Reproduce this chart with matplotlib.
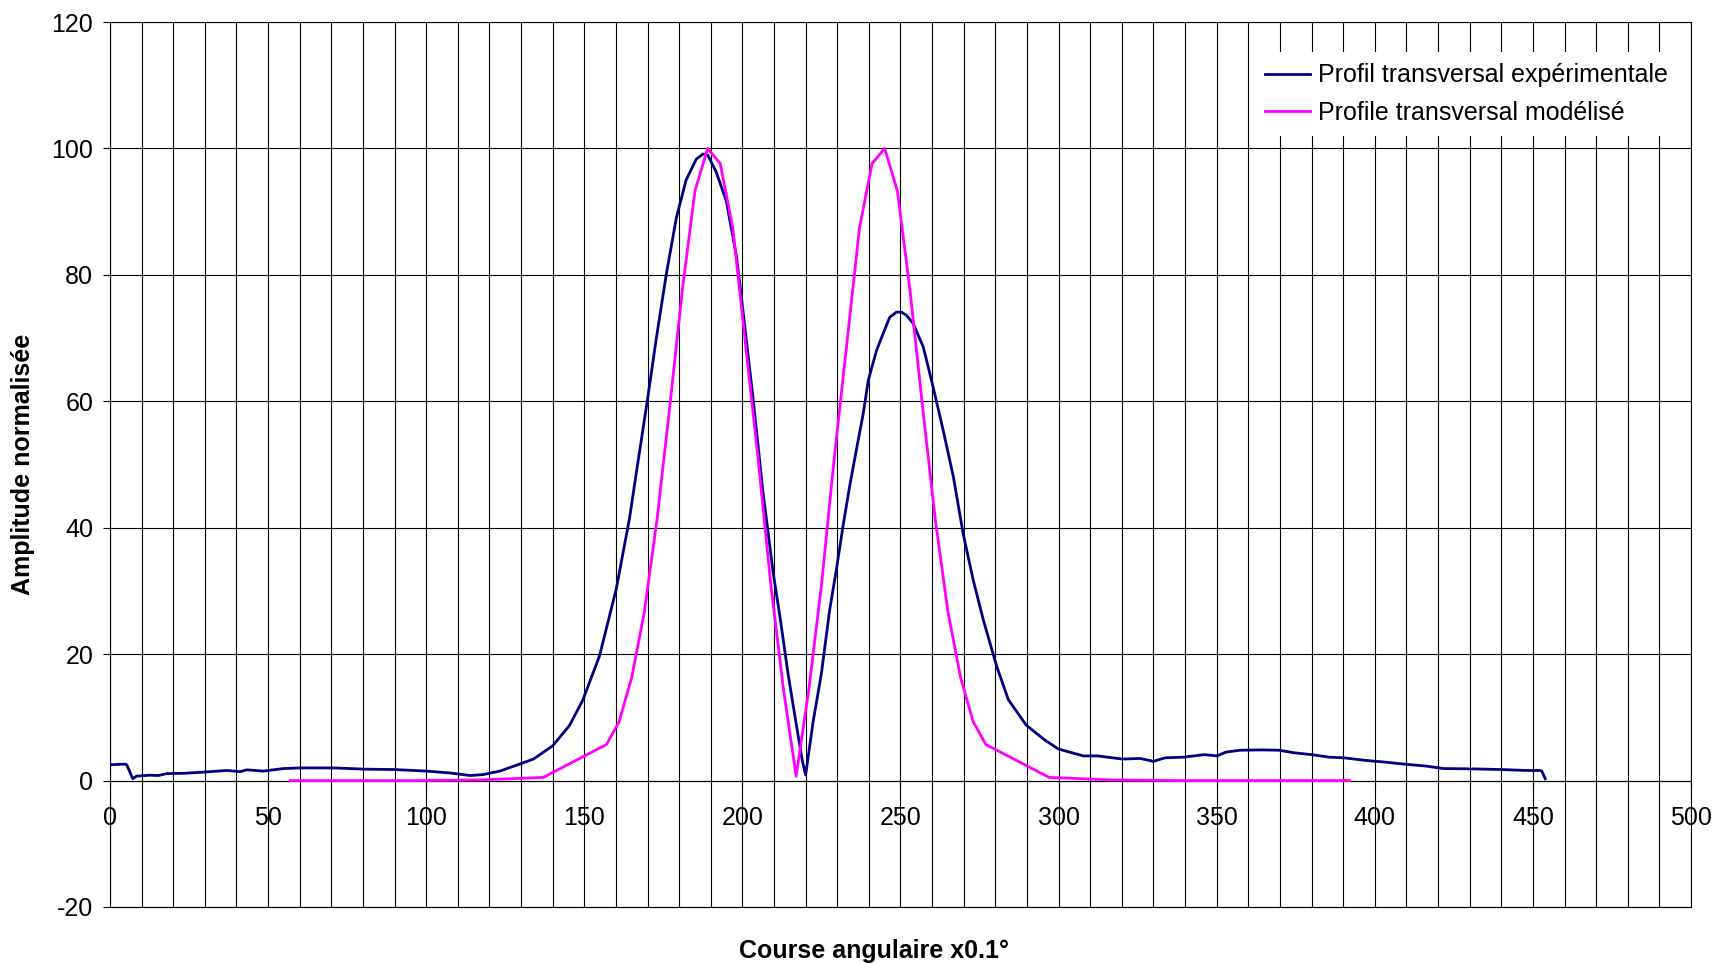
import matplotlib
matplotlib.use("Agg")
import matplotlib.pyplot as plt
from matplotlib.ticker import MultipleLocator

plt.rcParams['font.family'] = ['Liberation Sans', 'DejaVu Sans']
plt.rcParams['axes.unicode_minus'] = False

# Experimental transverse profile (x in 0.1 deg, normalized amplitude)
exp_x = [0, 4.7, 5.3, 7.2, 8.4, 12.6, 15.3, 17.9, 23.2, 28.5, 36.9, 41.1, 43.2, 48.5,
         54.8, 60.1, 70.6, 81.2, 89.6, 100.1, 107.5, 113.9, 118.1, 123.3, 129.5, 133.9,
         140, 145.3, 149.5, 154.8, 160.1, 164.3, 166.4, 169.9, 172.7, 175.9, 179.1, 182.2,
         185.4, 187.5, 189.1, 191.7, 194.9, 198.1, 200.2, 203.4, 206.5, 209.7, 212,
         214.4, 217, 219, 220, 222.3, 225, 227.6, 229.7, 231.8, 233.9, 236.6, 238.2,
         239.8, 242.4, 244.5, 246.6, 248.7, 250.3, 251.9, 254, 257.2, 260.3, 263.5,
         266.7, 269.8, 273, 276.2, 280.4, 284.1, 289.7, 295.4, 299.9, 307.8, 312.3,
         320.2, 325.8, 330, 333.7, 339.4, 346.1, 350.1, 352.9, 357.4, 364.2, 369.8,
         374.4, 380, 385.6, 390.2, 396.9, 402.6, 409.3, 416.1, 421.7, 430.8, 439.8,
         447.7, 452.2, 452.8, 453.9]
exp_y = [2.5, 2.6, 2.5, 0.3, 0.7, 0.85, 0.8, 1.1, 1.15, 1.3, 1.6, 1.4, 1.7, 1.5,
         1.9, 2.0, 2.0, 1.8, 1.75, 1.5, 1.2, 0.8, 0.95, 1.5, 2.6, 3.4,
         5.5, 8.7, 12.7, 19.7, 30.3, 41.5, 48.5, 60, 69.7, 80, 89, 95,
         98.3, 99.1, 98.9, 96.3, 91.7, 83, 74.3, 60.3, 45.7, 33, 25.5,
         17, 9, 3, 0.9, 9.1, 17, 27, 33.3, 40.2, 46.5, 53.8, 58,
         63.3, 68, 70.7, 73.3, 74.1, 74.1, 73.6, 72.3, 68.6, 62.3, 55.4,
         48.1, 39.1, 31.7, 25.4, 18.1, 12.8, 8.8, 6.5, 5.0, 3.9, 3.9,
         3.4, 3.5, 3.05, 3.6, 3.7, 4.1, 3.9, 4.5, 4.8, 4.85, 4.8,
         4.4, 4.1, 3.7, 3.6, 3.2, 2.95, 2.6, 2.3, 1.9, 1.85, 1.75,
         1.6, 1.6, 1.5, 0.3]

# Modelled transverse profile
mod_x = [57, 77, 97, 117, 137, 157, 161, 165, 169, 173, 177, 181, 185, 189, 193, 197,
         201, 205, 209, 213, 217, 221, 225, 229, 233, 237, 241, 245, 249, 253, 257,
         261, 265, 269, 273, 277, 297, 317, 337, 357, 377, 392]
mod_y = [0.0, 0.0, 0.0, 0.1, 0.5, 5.7, 9.3, 16.3, 26.7, 41.3, 59, 77.6, 93.3, 100, 97.6, 87.3,
         69, 50.8, 30.9, 14.4, 0.7, 14.4, 30.9, 50.8, 69, 87.3, 97.6, 100, 93.3, 77.6, 59,
         41.3, 26.7, 16.3, 9.3, 5.7, 0.5, 0.1, 0.0, 0.0, 0.0, 0.0]

label_exp = "Profil transversal expérimentale"
label_mod = "Profile transversal modélisé"
xlabel = "Course angulaire x0.1°"
ylabel = "Amplitude normalisée"

W, H = 1714, 964
fig = plt.figure(figsize=(W / 100, H / 100), dpi=100)
L, R, T, B = 110, 1691, 22, 907
ax = fig.add_axes([L / W, 1 - B / H, (R - L) / W, (B - T) / H])

ax.plot(exp_x, exp_y, color='#000080', lw=2.0, label=label_exp, zorder=3)
ax.plot(mod_x, mod_y, color='#FF00FF', lw=2.0, label=label_mod, zorder=3)

ax.set_xlim(0, 500)
ax.set_ylim(-20, 120)
ax.xaxis.set_major_locator(MultipleLocator(50))
ax.xaxis.set_minor_locator(MultipleLocator(10))
ax.yaxis.set_major_locator(MultipleLocator(20))

ax.grid(which='both', axis='x', color='black', lw=0.8)
ax.grid(which='major', axis='y', color='black', lw=0.8)
ax.set_axisbelow(True)

for s in ['top', 'right', 'left']:
    ax.spines[s].set_color('black')
    ax.spines[s].set_linewidth(0.8)
ax.spines['bottom'].set_position(('data', 0))
ax.spines['bottom'].set_color('black')
ax.spines['bottom'].set_linewidth(0.8)
ax.axhline(-20, color='black', lw=0.8, clip_on=False)

ax.tick_params(axis='x', which='major', direction='out', length=5, width=0.8,
               labelsize=18, pad=13)
ax.tick_params(axis='x', which='minor', length=0)
ax.tick_params(axis='y', which='major', direction='out', length=5, width=0.8,
               labelsize=18, pad=7)

fig.text(874 / W, 1 - 951 / H, xlabel, ha='center', va='center',
         fontsize=18, fontweight='bold')
fig.text(23 / W, 1 - 464 / H, ylabel, ha='center', va='center', rotation=90,
         fontsize=18, fontweight='bold')

leg = ax.legend(loc='upper right', bbox_to_anchor=(1679 / W, 1 - 52 / H),
                bbox_transform=fig.transFigure, fontsize=18, frameon=True,
                fancybox=False, edgecolor='none', facecolor='white', framealpha=1,
                handlelength=1.8, handletextpad=0.3, labelspacing=0.55,
                borderpad=0.45, borderaxespad=0)

fig.savefig('out.png', dpi=100)
